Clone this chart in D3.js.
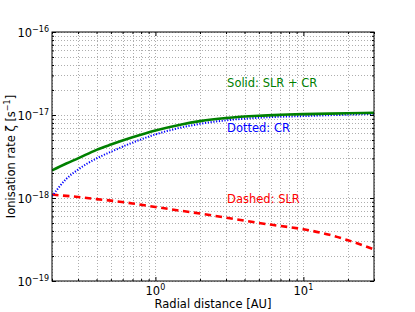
<!DOCTYPE html>
<html>
<head>
<meta charset="utf-8">
<script src="https://cdn.jsdelivr.net/npm/d3@7"></script>
<style>
  body { margin: 0; background: #fff; }
  text { font-family: "DejaVu Sans", sans-serif; }
</style>
</head>
<body>
<svg id="chart" width="415" height="312"></svg>
<script>
// radial distance [AU]
const radius = [0.2, 0.25, 0.3, 0.4, 0.5, 0.7, 1, 1.5, 2, 3, 5, 7, 10, 15, 20, 30];
// ionisation rates [s^-1]
const slrPlusCr = [2.15e-18, 2.6e-18, 3.0e-18, 3.8e-18, 4.4e-18, 5.38e-18, 6.5e-18, 7.7e-18, 8.43e-18, 9.2e-18, 9.8e-18, 1.005e-17, 1.025e-17, 1.04e-17, 1.05e-17, 1.06e-17];
const crOnly = [1.05e-18, 1.7e-18, 2.2e-18, 3.0e-18, 3.6e-18, 4.65e-18, 5.83e-18, 7.08e-18, 7.83e-18, 8.63e-18, 9.27e-18, 9.53e-18, 9.7e-18, 9.95e-18, 1.01e-17, 1.03e-17];
const slrOnly = [1.10e-18, 1.06e-18, 1.03e-18, 0.97e-18, 0.93e-18, 0.86e-18, 0.78e-18, 0.70e-18, 0.65e-18, 0.58e-18, 0.50e-18, 0.46e-18, 0.42e-18, 0.36e-18, 0.31e-18, 0.24e-18];

const xDomain = [0.2, 30];
const yDomain = [1e-19, 1e-16];
const xMajor = [1, 10];
const yMajor = [1e-19, 1e-18, 1e-17, 1e-16];

const labels = [
  { text: "Solid: SLR + CR", color: "#008000", at: [3.05, 2.2e-17] },
  { text: "Dotted: CR", color: "#0000ff", at: [3.05, 6.2e-18] },
  { text: "Dashed: SLR", color: "#ff0000", at: [3.05, 8.7e-19] }
];

const m = { left: 52, top: 32, right: 374, bottom: 281 };
const svg = d3.select('#chart');

const x = d3.scaleLog().domain(xDomain).range([m.left, m.right]);
const y = d3.scaleLog().domain(yDomain).range([m.bottom, m.top]);

const xMinor = x.ticks().filter(v => !xMajor.some(t => Math.abs(t - v) < 1e-9));
const yMinor = y.ticks().filter(v => !yMajor.some(t => Math.abs(t / v - 1) < 1e-6));

// grid (major + minor, dotted)
const grid = svg.append('g').attr('class', 'grid')
  .attr('stroke', '#999').attr('stroke-width', 0.8).attr('stroke-dasharray', '1,2');
grid.selectAll('line.gx').data(x.ticks()).join('line')
  .attr('class', 'gx')
  .attr('x1', d => Math.round(x(d)) + 0.5).attr('x2', d => Math.round(x(d)) + 0.5)
  .attr('y1', m.top).attr('y2', m.bottom);
grid.selectAll('line.gy').data(y.ticks()).join('line')
  .attr('class', 'gy')
  .attr('y1', d => Math.round(y(d)) + 0.5).attr('y2', d => Math.round(y(d)) + 0.5)
  .attr('x1', m.left).attr('x2', m.right);

// curves
svg.append('clipPath').attr('id', 'clip').append('rect')
  .attr('x', m.left).attr('y', m.top)
  .attr('width', m.right - m.left).attr('height', m.bottom - m.top);

const line = vals => d3.line()
  .x((d, i) => x(radius[i]))
  .y(d => y(d))
  .curve(d3.curveMonotoneX)(vals);

const curves = svg.append('g').attr('clip-path', 'url(#clip)').attr('fill', 'none');
curves.append('path').attr('d', line(slrOnly))
  .attr('stroke', '#ff0000').attr('stroke-width', 2.6).attr('stroke-dasharray', '6.5,4.5');
curves.append('path').attr('d', line(crOnly))
  .attr('stroke', '#0000ff').attr('stroke-width', 2).attr('stroke-dasharray', '1.2,1.6');
curves.append('path').attr('d', line(slrPlusCr))
  .attr('stroke', '#008000').attr('stroke-width', 2.6);

// ticks on all four sides, pointing inward
const tickG = (axis, tf) => svg.append('g').attr('transform', tf).call(axis)
  .call(g => g.select('.domain').remove())
  .call(g => g.selectAll('.tick line').attr('stroke', '#000'));

tickG(d3.axisBottom(x).tickValues(xMajor).tickSize(-4).tickFormat(''), `translate(0,${m.bottom})`);
tickG(d3.axisBottom(x).tickValues(xMinor).tickSize(-2).tickFormat(''), `translate(0,${m.bottom})`);
tickG(d3.axisTop(x).tickValues(xMajor).tickSize(-4).tickFormat(''), `translate(0,${m.top})`);
tickG(d3.axisTop(x).tickValues(xMinor).tickSize(-2).tickFormat(''), `translate(0,${m.top})`);
tickG(d3.axisLeft(y).tickValues(yMajor).tickSize(-4).tickFormat(''), `translate(${m.left},0)`);
tickG(d3.axisLeft(y).tickValues(yMinor).tickSize(-2).tickFormat(''), `translate(${m.left},0)`);
tickG(d3.axisRight(y).tickValues(yMajor).tickSize(-4).tickFormat(''), `translate(${m.right},0)`);
tickG(d3.axisRight(y).tickValues(yMinor).tickSize(-2).tickFormat(''), `translate(${m.right},0)`);

// frame
svg.append('rect')
  .attr('x', m.left).attr('y', m.top)
  .attr('width', m.right - m.left).attr('height', m.bottom - m.top)
  .attr('fill', 'none').attr('stroke', '#000').attr('stroke-width', 1);

// tick labels 10^n
const powLabel = (sel, v) => {
  const e = Math.round(Math.log10(v));
  sel.append('tspan').attr('font-size', 11.5).text('10');
  sel.append('tspan').attr('font-size', 8).attr('dy', -5)
    .text(e < 0 ? '\u2212' + (-e) : String(e));
};

svg.append('g').selectAll('text').data(xMajor).join('text')
  .attr('x', d => x(d)).attr('y', 295)
  .attr('text-anchor', 'middle')
  .each(function(d) { powLabel(d3.select(this), d); });

svg.append('g').selectAll('text').data(yMajor).join('text')
  .attr('x', 49).attr('y', d => y(d) + 5)
  .attr('text-anchor', 'end')
  .each(function(d) { powLabel(d3.select(this), d); });

// axis titles
svg.append('text')
  .attr('x', (m.left + m.right) / 2).attr('y', 308)
  .attr('text-anchor', 'middle').attr('font-size', 11.5)
  .text('Radial distance [AU]');

const yt = svg.append('text')
  .attr('transform', `translate(15,${(m.top + m.bottom) / 2}) rotate(-90)`)
  .attr('text-anchor', 'middle').attr('font-size', 11.5);
yt.append('tspan').text('Ionisation rate \u03B6 [s');
yt.append('tspan').attr('font-size', 8).attr('dy', -5).text('\u22121');
yt.append('tspan').attr('dy', 5).text(']');

// annotations
svg.append('g').selectAll('text').data(labels).join('text')
  .attr('x', d => x(d.at[0])).attr('y', d => y(d.at[1]))
  .attr('fill', d => d.color).attr('font-size', 11.5)
  .text(d => d.text);
</script>
</body>
</html>
